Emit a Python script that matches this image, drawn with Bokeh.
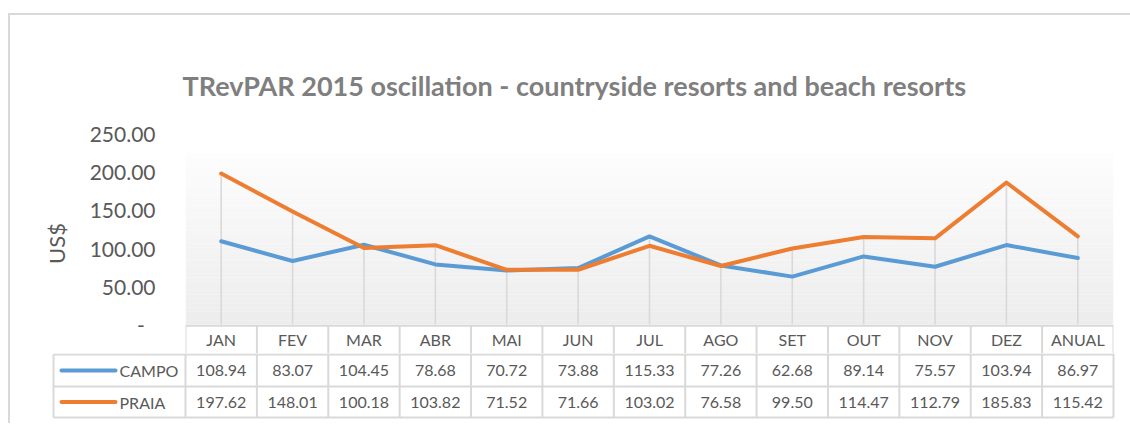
from bokeh.plotting import figure
from bokeh.models import (Range1d, FactorRange, FixedTicker, CustomJSTickFormatter,
                          ColumnDataSource)
from bokeh.layouts import column
from bokeh.embed import file_html
from bokeh.resources import INLINE
from bokeh.core.properties import value

# ---------------- data ----------------
months = ["JAN", "FEV", "MAR", "ABR", "MAI", "JUN", "JUL", "AGO", "SET", "OUT", "NOV", "DEZ", "ANUAL"]
campo = [108.94, 83.07, 104.45, 78.68, 70.72, 73.88, 115.33, 77.26, 62.68, 89.14, 75.57, 103.94, 86.97]
praia = [197.62, 148.01, 100.18, 103.82, 71.52, 71.66, 103.02, 76.58, 99.50, 114.47, 112.79, 185.83, 115.42]
series_names = ["CAMPO", "PRAIA"]
series_colors = ["#5b9bd5", "#ed7d31"]
y_ticks = [0, 50, 100, 150, 200, 250]
y_max = 250
title_text = "TRevPAR 2015 oscillation - countryside resorts and beach resorts"
y_label = "US$"

FONT = "Lato"
GRID = "#d9d9d9"
TXT = "#595959"

# ---------------- layout constants (page px) ----------------
OX, OY = 10, 15                 # content origin inside the chart border
W = 1130 - OX
n = len(months)
plot_l, plot_r = 185, 1113
plot_t, zero_y, hdr_b = 133, 324, 353
cw = (plot_r - plot_l) / n
k = (zero_y - plot_t) / y_max   # px per value unit

# ---------------- chart (with header row of table) ----------------
H1 = hdr_b - OY
p = figure(width=W, height=H1, output_backend="svg", toolbar_location=None,
           x_range=FactorRange(*months), y_range=Range1d(-(hdr_b - zero_y) / k, y_max),
           x_axis_location=None, min_border_left=plot_l - OX, min_border_right=W - (plot_r - OX),
           min_border_top=plot_t - OY, min_border_bottom=0, frame_align=False)
p.outline_line_color = None
p.xgrid.visible = False
p.ygrid.visible = False
p.background_fill_color = "white"
p.border_fill_color = "white"

# plot-area gradient (decoration)
nb = 40
grad_top = (zero_y - 153) / k
bands = ColumnDataSource(dict(
    bottom=[grad_top * i / nb for i in range(nb)],
    top=[grad_top * (i + 1) / nb for i in range(nb)],
    color=["#%02x%02x%02x" % ((int(237 + 16 * i / (nb - 1)),) * 3) for i in range(nb)],
))
p.quad(left=0, right=n, bottom="bottom", top="top", fill_color="color", line_color=None, source=bands)

src = ColumnDataSource(dict(m=months, campo=campo, praia=praia,
                            top=[max(a, b) for a, b in zip(campo, praia)], zero=[0] * n))
p.segment(x0="m", y0="zero", x1="m", y1="top", source=src, line_color=GRID, line_width=1.6)
p.line("m", "campo", source=src, line_color=series_colors[0], line_width=4, line_join="round", line_cap="round")
p.line("m", "praia", source=src, line_color=series_colors[1], line_width=4, line_join="round", line_cap="round")

# header row of the data table (below the zero line)
hdr_top = -1.2 / k
hdr_bot = -(hdr_b - zero_y) / k
p.segment(x0=[0], y0=[hdr_top], x1=[n], y1=[hdr_top], line_color=GRID, line_width=2)
bx = list(range(n + 1))
p.segment(x0=bx, y0=[hdr_top] * (n + 1), x1=bx, y1=[hdr_bot] * (n + 1), line_color=GRID, line_width=2)
p.text(x=months, y=[(hdr_top + hdr_bot) / 2] * n, text=months, text_align="center",
       text_baseline="middle", text_font=value(FONT), text_font_size="16px", text_color=TXT)

ax = p.yaxis[0]
ax.ticker = FixedTicker(ticks=y_ticks)
ax.formatter = CustomJSTickFormatter(code="return tick == 0 ? '-\u00a0\u00a0' : tick.toFixed(2);")
ax.axis_line_color = None
ax.major_tick_line_color = None
ax.minor_tick_line_color = None
ax.major_label_standoff = 24
ax.major_label_text_font = FONT
ax.major_label_text_font_size = "21px"
ax.major_label_text_color = TXT
ax.axis_label = y_label
ax.axis_label_text_font = FONT
ax.axis_label_text_font_size = "22px"
ax.axis_label_text_font_style = "normal"
ax.axis_label_text_color = TXT
ax.axis_label_standoff = 17

p.title.text = title_text
p.title.text_font = FONT
p.title.text_font_size = "27px"
p.title.text_font_style = "bold"
p.title.text_color = "#7f7f7f"
p.title.align = "left"
p.title.offset = -3
p.title.standoff = 63

# ---------------- data rows of the table ----------------
H2 = 423 - hdr_b
t = figure(width=W, height=H2, output_backend="svg", toolbar_location=None, title=None,
           x_range=Range1d(-(plot_l - OX) / cw, n + (1130 - plot_r) / cw), y_range=Range1d(H2, 0),
           x_axis_location=None, y_axis_location=None, frame_align=False,
           min_border_left=0, min_border_right=0, min_border_top=0, min_border_bottom=0)
t.outline_line_color = None
t.xgrid.visible = False
t.ygrid.visible = False
t.background_fill_color = "white"
t.border_fill_color = "white"

leg_left = -(plot_l - 53) / cw
rows = [(1.0, 33.0), (33.0, 64.0)]   # CAMPO, PRAIA (top, bottom) in px below header

hy = [rows[0][0], rows[1][0], rows[1][1]]
t.segment(x0=[leg_left] * 3, y0=hy, x1=[n] * 3, y1=hy, line_color=GRID, line_width=2)
vx = list(range(n + 1))
t.segment(x0=vx, y0=[0] * (n + 1), x1=vx, y1=[rows[1][1]] * (n + 1), line_color=GRID, line_width=2)
t.segment(x0=[leg_left], y0=[rows[0][0]], x1=[leg_left], y1=[rows[1][1]], line_color=GRID, line_width=2)

xc = [i + 0.5 for i in range(n)]
ctr = [(a + b) / 2 for a, b in rows]
for kk, vals in enumerate([campo, praia]):
    t.text(x=xc, y=[ctr[kk]] * n, text=["%.2f" % v for v in vals], text_align="center",
           text_baseline="middle", text_font=value(FONT), text_font_size="16px", text_color=TXT)
    t.segment(x0=[(61 - plot_l) / cw], y0=[ctr[kk]], x1=[(115 - plot_l) / cw], y1=[ctr[kk]],
              line_color=series_colors[kk], line_width=4, line_cap="round")
    t.text(x=[(119 - plot_l) / cw], y=[ctr[kk]], text=[series_names[kk]], text_align="left",
           text_baseline="middle", text_font=value(FONT), text_font_size="16px", text_color=TXT)

layout = column(p, t, spacing=0, margin=(13, 0, 0, 8),
                styles={"border-top": "2px solid #d9d9d9", "border-left": "2px solid #d9d9d9"})
open("out.html", "w").write(file_html(layout, INLINE))
